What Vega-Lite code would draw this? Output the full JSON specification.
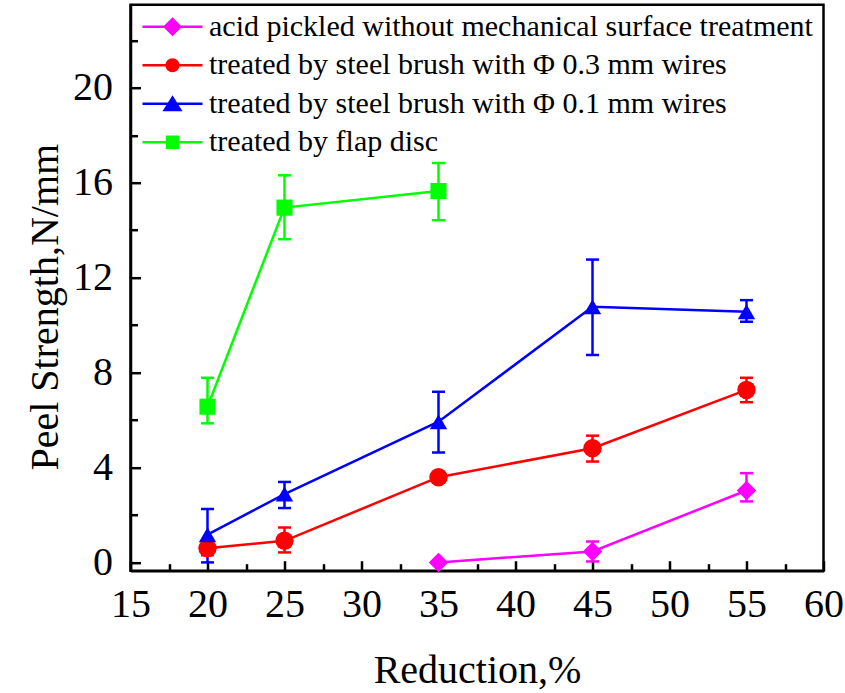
{
  "$schema": "https://vega.github.io/schema/vega-lite/v6.json",
  "width": 693,
  "height": 566,
  "autosize": {"type": "none"},
  "padding": {"left": 130.5, "top": 4.7, "right": 21.5, "bottom": 122.3},
  "config": {
    "font": "Liberation Serif",
    "view": {"stroke": "black", "strokeWidth": 2.5},
    "axis": {
      "domainColor": "black", "domainWidth": 2.5, "tickColor": "black", "tickWidth": 2.5,
      "labelColor": "black", "titleColor": "black", "labelFont": "Liberation Serif", "titleFont": "Liberation Serif",
      "labelFontSize": 40, "titleFontSize": 40, "titleFontWeight": "normal", "grid": false,
      "labelFlush": false, "labelOverlap": false
    },
    "legend": {"orient": "none", "legendX": 7, "legendY": 7, "title": null,
      "labelFont": "Liberation Serif", "labelFontSize": 30, "labelColor": "black", "labelLimit": 800,
      "symbolSize": 400, "symbolOffset": 20, "labelOffset": 21.5, "rowPadding": 8.5, "padding": 0,
      "symbolStrokeWidth": 0, "symbolOpacity": 1}
  },
  "resolve": {"axis": {"x": "independent", "y": "independent"}, "scale": {"shape": "independent", "color": "independent"}, "legend": {"shape": "independent", "color": "independent"}},
  "data": {"values": [
    {"series": "acid pickled without mechanical surface treatment", "x": 35, "y": 0, "lo": null, "hi": null},
    {"series": "acid pickled without mechanical surface treatment", "x": 45, "y": 0.46, "lo": 0.04, "hi": 0.88},
    {"series": "acid pickled without mechanical surface treatment", "x": 55, "y": 3.03, "lo": 2.57, "hi": 3.76},
    {"series": "treated by steel brush with Φ 0.3 mm wires", "x": 20, "y": 0.6, "lo": 0.3, "hi": 0.95},
    {"series": "treated by steel brush with Φ 0.3 mm wires", "x": 25, "y": 0.91, "lo": 0.42, "hi": 1.47},
    {"series": "treated by steel brush with Φ 0.3 mm wires", "x": 35, "y": 3.59, "lo": 3.4, "hi": 3.8},
    {"series": "treated by steel brush with Φ 0.3 mm wires", "x": 45, "y": 4.81, "lo": 4.25, "hi": 5.34},
    {"series": "treated by steel brush with Φ 0.3 mm wires", "x": 55, "y": 7.27, "lo": 6.75, "hi": 7.78},
    {"series": "treated by steel brush with Φ 0.1 mm wires", "x": 20, "y": 1.17, "lo": 0, "hi": 2.25},
    {"series": "treated by steel brush with Φ 0.1 mm wires", "x": 25, "y": 2.88, "lo": 2.29, "hi": 3.39},
    {"series": "treated by steel brush with Φ 0.1 mm wires", "x": 35, "y": 5.93, "lo": 4.63, "hi": 7.19},
    {"series": "treated by steel brush with Φ 0.1 mm wires", "x": 45, "y": 10.77, "lo": 8.74, "hi": 12.76},
    {"series": "treated by steel brush with Φ 0.1 mm wires", "x": 55, "y": 10.56, "lo": 10.14, "hi": 11.05},
    {"series": "treated by flap disc", "x": 20, "y": 6.56, "lo": 5.86, "hi": 7.78},
    {"series": "treated by flap disc", "x": 25, "y": 14.95, "lo": 13.62, "hi": 16.31},
    {"series": "treated by flap disc", "x": 35, "y": 15.65, "lo": 14.42, "hi": 16.83}
  ]},
  "layer": [
    {
      "transform": [{"filter": "datum.lo != null"}],
      "mark": {"type": "rule", "strokeWidth": 2.5},
      "encoding": {
        "x": {"field": "x", "type": "quantitative", "scale": {"domain": [15, 60], "nice": false, "zero": false},
          "axis": {"orient": "bottom", "values": [15, 20, 25, 30, 35, 40, 45, 50, 55, 60],
            "ticks": false, "tickSize": 0,
            "labelPadding": 14, "title": "Reduction,%", "titlePadding": 26}},
        "y": {"field": "lo", "type": "quantitative", "scale": {"domain": [-0.35, 23.5], "nice": false, "zero": false},
          "axis": {"orient": "left", "values": [0, 4, 8, 12, 16, 20],
            "ticks": false, "tickSize": 0,
            "labelPadding": 18, "title": "Peel Strength,N/mm", "titlePadding": 7, "titleY": 302}},
        "y2": {"field": "hi"},
        "color": {"field": "series", "type": "nominal", "legend": null,
          "scale": {"domain": ["acid pickled without mechanical surface treatment", "treated by steel brush with Φ 0.3 mm wires", "treated by steel brush with Φ 0.1 mm wires", "treated by flap disc"],
            "range": ["#FF00FF", "#FF0000", "#0000FF", "#00FF00"]}}
      }
    },
    {
      "transform": [{"filter": "datum.lo != null"}],
      "mark": {"type": "tick", "orient": "horizontal", "size": 13, "thickness": 2.5, "opacity": 1},
      "encoding": {
        "x": {"field": "x", "type": "quantitative",
          "axis": {"orient": "top", "offset": -566, "values": [15, 17.5, 20, 22.5, 25, 27.5, 30, 32.5, 35, 37.5, 40, 42.5, 45, 47.5, 50, 52.5, 55, 57.5, 60],
            "labels": false, "domain": false, "title": null,
            "tickSize": {"condition": {"test": "datum.value % 5 === 0", "value": 10}, "value": 7}}},
        "y": {"field": "lo", "type": "quantitative",
          "axis": {"orient": "right", "offset": -693, "values": [0, 2, 4, 6, 8, 10, 12, 14, 16, 18, 20, 22],
            "labels": false, "domain": false, "title": null,
            "tickSize": {"condition": {"test": "datum.value % 4 === 0", "value": 10}, "value": 7}}},
        "color": {"field": "series", "type": "nominal", "legend": null,
          "scale": {"domain": ["acid pickled without mechanical surface treatment", "treated by steel brush with Φ 0.3 mm wires", "treated by steel brush with Φ 0.1 mm wires", "treated by flap disc"],
            "range": ["#FF00FF", "#FF0000", "#0000FF", "#00FF00"]}}
      }
    },
    {
      "transform": [{"filter": "datum.lo != null"}],
      "mark": {"type": "tick", "orient": "horizontal", "size": 13, "thickness": 2.5, "opacity": 1},
      "encoding": {
        "x": {"field": "x", "type": "quantitative", "axis": null},
        "y": {"field": "hi", "type": "quantitative", "axis": null},
        "color": {"field": "series", "type": "nominal", "legend": null,
          "scale": {"domain": ["acid pickled without mechanical surface treatment", "treated by steel brush with Φ 0.3 mm wires", "treated by steel brush with Φ 0.1 mm wires", "treated by flap disc"],
            "range": ["#FF00FF", "#FF0000", "#0000FF", "#00FF00"]}}
      }
    },
    {
      "mark": {"type": "line", "strokeWidth": 2.5},
      "encoding": {
        "x": {"field": "x", "type": "quantitative", "axis": null},
        "y": {"field": "y", "type": "quantitative", "axis": null},
        "color": {"field": "series", "type": "nominal", "legend": null,
          "scale": {"domain": ["acid pickled without mechanical surface treatment", "treated by steel brush with Φ 0.3 mm wires", "treated by steel brush with Φ 0.1 mm wires", "treated by flap disc"],
            "range": ["#FF00FF", "#FF0000", "#0000FF", "#00FF00"]}}
      }
    },
    {
      "mark": {"type": "point", "filled": true, "opacity": 1},
      "encoding": {
        "x": {"field": "x", "type": "quantitative", "axis": null},
        "y": {"field": "y", "type": "quantitative", "axis": null},
        "color": {"field": "series", "type": "nominal", "legend": null,
          "scale": {"domain": ["acid pickled without mechanical surface treatment", "treated by steel brush with Φ 0.3 mm wires", "treated by steel brush with Φ 0.1 mm wires", "treated by flap disc"],
            "range": ["#FF00FF", "#FF0000", "#0000FF", "#00FF00"]}},
        "shape": {"field": "series", "type": "nominal", "legend": null,
          "scale": {"domain": ["acid pickled without mechanical surface treatment", "treated by steel brush with Φ 0.3 mm wires", "treated by steel brush with Φ 0.1 mm wires", "treated by flap disc"],
            "range": ["diamond", "circle", "triangle-up", "square"]}},
        "size": {"field": "series", "type": "nominal", "legend": null,
          "scale": {"domain": ["acid pickled without mechanical surface treatment", "treated by steel brush with Φ 0.3 mm wires", "treated by steel brush with Φ 0.1 mm wires", "treated by flap disc"],
            "range": [380, 260, 330, 200]}}
      }
    },
    {
      "transform": [{"filter": "false"}],
      "mark": {"type": "point", "filled": true, "opacity": 1},
      "encoding": {
        "x": {"field": "x", "type": "quantitative", "axis": null},
        "y": {"field": "y", "type": "quantitative", "axis": null},
        "color": {"field": "series", "type": "nominal",
          "scale": {"domain": ["acid pickled without mechanical surface treatment", "treated by steel brush with Φ 0.3 mm wires", "treated by steel brush with Φ 0.1 mm wires", "treated by flap disc"],
            "range": ["#FF00FF", "#FF0000", "#0000FF", "#00FF00"]}},
        "shape": {"field": "series", "type": "nominal",
          "scale": {"domain": ["acid pickled without mechanical surface treatment", "treated by steel brush with Φ 0.3 mm wires", "treated by steel brush with Φ 0.1 mm wires", "treated by flap disc"],
            "range": [
              "M-3,-0.13H3V0.13H-3Z M0,-0.95L0.95,0L0,0.95L-0.95,0Z",
              "M-3,-0.13H3V0.13H-3Z M0.7,0A0.7,0.7 0 1,1 -0.7,0A0.7,0.7 0 1,1 0.7,0Z",
              "M-3,-0.13H3V0.13H-3Z M0,-0.85L1,0.75L-1,0.75Z",
              "M-3,-0.13H3V0.13H-3Z M-0.67,-0.67H0.67V0.67H-0.67Z"
            ]}}
      }
    }
  ]
}
